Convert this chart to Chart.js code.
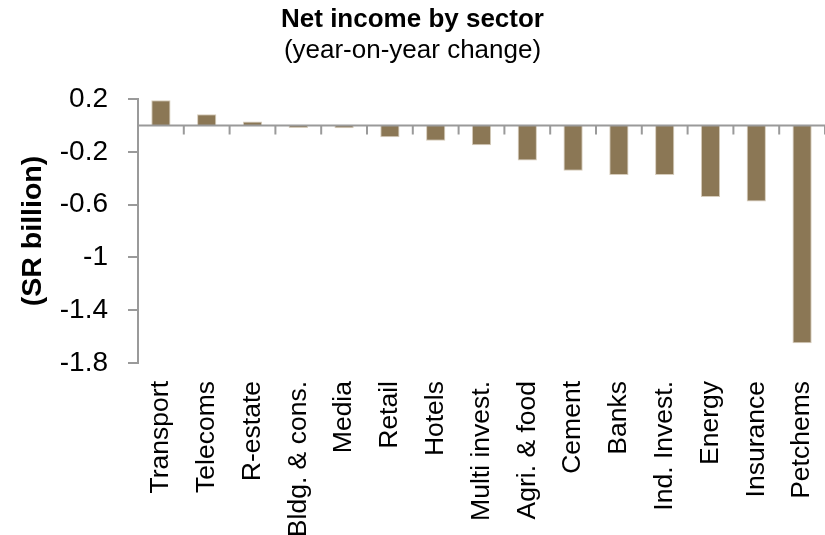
<!DOCTYPE html>
<html>
<head>
<meta charset="utf-8">
<script src="https://cdn.jsdelivr.net/npm/chart.js@4"></script>
<style>
  html, body { margin: 0; padding: 0; background: #fff; }
  #wrap { width: 825px; height: 535px; }
</style>
</head>
<body>
<div id="wrap"><canvas id="chart" width="825" height="535"></canvas></div>
<script>
// sectors, ordered as in the chart
const sectors = ['Transport', 'Telecoms', 'R-estate', 'Bldg. & cons.', 'Media', 'Retail', 'Hotels',
  'Multi invest.', 'Agri. & food', 'Cement', 'Banks', 'Ind. Invest.', 'Energy', 'Insurance', 'Petchems'];

// net income, year-on-year change (SR billion)
const netIncomeChange = [0.19, 0.085, 0.03, -0.02, -0.022, -0.09, -0.117,
  -0.15, -0.266, -0.343, -0.376, -0.376, -0.542, -0.577, -1.65];

const yTicks = [0.2, -0.2, -0.6, -1, -1.4, -1.8];

const FONT = "'Liberation Sans', Arial, sans-serif";
const AXIS_GREY = '#9a9a9a';

// horizontal zero line with small ticks between the sectors
const zeroLine = {
  id: 'zeroLine',
  afterDatasetsDraw(chart) {
    const { ctx, chartArea, scales: { x, y } } = chart;
    const y0 = y.getPixelForValue(0);
    ctx.save();
    ctx.strokeStyle = AXIS_GREY;
    ctx.lineWidth = 2;
    ctx.beginPath();
    ctx.moveTo(chartArea.left, y0);
    ctx.lineTo(chartArea.right, y0);
    for (let i = 1; i <= sectors.length; i++) {
      const xb = x.getPixelForValue(i - 0.5);
      ctx.moveTo(xb, y0);
      ctx.lineTo(xb, y0 + 9);
    }
    ctx.stroke();
    ctx.restore();
  }
};

const ctx = document.getElementById('chart').getContext('2d');
new Chart(ctx, {
  type: 'bar',
  data: {
    labels: sectors,
    datasets: [{
      data: netIncomeChange,
      backgroundColor: '#8b7755',
      borderColor: '#d6ccbb',
      borderWidth: 1,
      borderSkipped: 'start',
      barPercentage: 0.42,
      categoryPercentage: 1
    }]
  },
  options: {
    responsive: false,
    animation: false,
    layout: { padding: { left: 0, right: 0, top: 0, bottom: 0 } },
    plugins: {
      legend: { display: false },
      tooltip: { enabled: false },
      title: {
        display: true,
        text: 'Net income by sector',
        color: '#000',
        font: { family: FONT, size: 26, weight: 'bold', lineHeight: 1.2 },
        padding: { top: 4, bottom: 0 }
      },
      subtitle: {
        display: true,
        text: '(year-on-year change)',
        color: '#000',
        font: { family: FONT, size: 26, lineHeight: 1.2 },
        padding: { top: 0, bottom: 32.6 }
      }
    },
    scales: {
      x: {
        grid: { display: false, drawTicks: false },
        border: { display: false },
        ticks: {
          color: '#000',
          font: { family: FONT, size: 26.5 },
          maxRotation: 90,
          minRotation: 90,
          padding: 18,
          autoSkip: false
        },
        afterFit(scale) {
          scale.height = 172;
          scale.paddingLeft = 0;
          scale.paddingRight = 0;
        }
      },
      y: {
        min: -1.8,
        max: 0.2,
        afterBuildTicks(scale) {
          scale.ticks = yTicks.map(v => ({ value: v }));
        },
        grid: { drawOnChartArea: false, drawTicks: true, tickLength: 10, color: AXIS_GREY, lineWidth: 2 },
        border: { display: true, color: AXIS_GREY, width: 2 },
        ticks: {
          color: '#000',
          font: { family: FONT, size: 28 },
          padding: 20,
          callback: v => String(v)
        },
        title: {
          display: true,
          text: '(SR billion)',
          color: '#000',
          font: { family: FONT, size: 28.5, weight: 'bold', lineHeight: 1.2 },
          padding: { top: 16, bottom: 0 }
        },
        afterFit(scale) {
          scale.width = 138;
        }
      }
    }
  },
  plugins: [zeroLine]
});
</script>
</body>
</html>
